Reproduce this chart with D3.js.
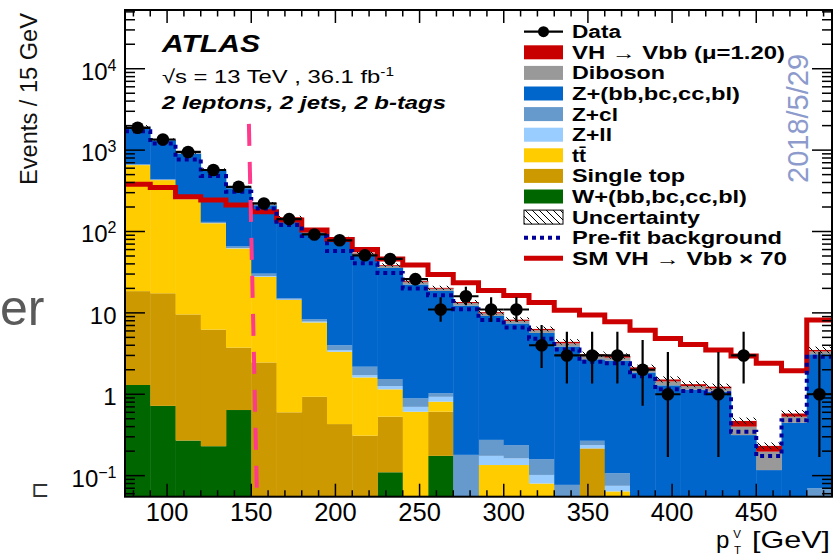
<!DOCTYPE html>
<html>
<head>
<meta charset="utf-8">
<script src="https://cdn.jsdelivr.net/npm/d3@7/dist/d3.min.js"></script>
<style>
  body { margin: 0; background: #fff; }
  svg text { font-family: "Liberation Sans", Arial, Helvetica, sans-serif; }
</style>
</head>
<body>
<svg id="chart" width="836" height="556"></svg>
<script>
// bin edges in pT^V [GeV], 15 GeV bins
const binEdges = [75, 90, 105, 120, 135, 150, 165, 180, 195, 210, 225, 240, 255, 270, 285,
  300, 315, 330, 345, 360, 375, 390, 405, 420, 435, 450, 465, 480, 495];

// stacked backgrounds + signal (post-fit), events per bin
const wHF     = [1.30, 0.72, 0.27, 0.23, 0.64, 0, 0, 0, 0, 0, 0.11, 0, 0.175, 0, 0, 0, 0, 0, 0, 0, 0, 0, 0, 0, 0, 0, 0, 0];
const singleTop = [17.2, 16.7, 9.3, 6.0, 3.1, 2.46, 0.60, 0.93, 0.43, 0.31, 0.42, 0, 0.435, 0, 0, 0, 0, 0, 0.216, 0, 0, 0, 0, 0, 0, 0, 0, 0];
const ttbar   = [636, 411, 240, 120, 58, 25.3, 13.8, 6.7, 2.9, 1.3, 0.62, 0.61, 0.2, 0, 0.135, 0.135, 0.08, 0, 0, 0.064, 0, 0, 0, 0, 0, 0, 0, 0];
const zLL     = [3, 2, 1.5, 1, 0.8, 0.6, 0.2, 0.2, 0.16, 0.11, 0.11, 0.09, 0.12, 0, 0.04, 0.028, 0.022, 0, 0.021, 0.011, 0, 0, 0, 0, 0, 0, 0, 0];
const zCL     = [12, 9, 6, 4, 3, 2, 0.5, 0.5, 0.51, 0.46, 0.28, 0.19, 0.10, 0.18, 0.10, 0.074, 0.057, 0.077, 0.031, 0.032, 0, 0, 0, 0, 0, 0, 0, 0.07];
const zHF     = [1270, 886, 650, 432, 275, 180, 126.5, 87.5, 72.9, 49, 34.1, 21.45, 17.57, 12.12, 8.9, 7.18, 5.51, 3.79, 2.42, 2.49, 1.855, 1.287, 1.14, 1.08, 0.315, 0.117, 0.446, 3.03];
const diboson = [25, 22, 18, 13, 10, 8, 6, 4.5, 3.8, 2.8, 2.2, 1.5, 1.2, 0.9, 0.7, 0.55, 0.45, 0.35, 0.25, 0.22, 0.18, 0.15, 0.12, 0.1, 0.085, 0.08, 0.084, 0.26];
const vhSignal = [6.5, 6.0, 4.6, 4.2, 3.6, 3.0, 2.4, 1.75, 1.34, 1.06, 0.82, 0.66, 0.50, 0.40, 0.32, 0.28, 0.23, 0.185, 0.16, 0.134, 0.105, 0.083, 0.07, 0.06, 0.07, 0.035, 0.05, 0.14];

// relative size of the hatched uncertainty band
const uncRel = [0.03, 0.03, 0.03, 0.03, 0.03, 0.04, 0.04, 0.04, 0.05, 0.05, 0.05, 0.06, 0.06, 0.06, 0.07, 0.07, 0.07, 0.08, 0.08, 0.08, 0.08, 0.09, 0.09, 0.09, 0.1, 0.1, 0.1, 0.1];

// pre-fit background and SM VH x 70 overlays
const preFit = [1710, 1208, 769, 480, 307, 192, 120, 88, 57.5, 40.6, 31, 20, 16.5, 11.1, 8.2, 6.6, 4.8, 3.56, 2.5, 2.4, 1.67, 1.15, 1.1, 1.03, 0.346, 0.174, 0.48, 2.89];
const smVHx70 = [382, 348, 267, 243, 211, 175, 138, 104, 80, 60, 46, 38.7, 29.6, 23.4, 18.9, 16.3, 13.4, 10.8, 9.4, 7.8, 6.1, 4.86, 4.1, 3.49, 2.95, 2.4, 1.95, 8.2];

// data with asymmetric errors (0 = empty bin)
const dataCounts = [1880, 1350, 950, 570, 354, 221, 142, 92, 78, 51, 46, 26, 11, 16, 11, 11, 4, 3, 3, 3, 2, 1, 0, 1, 3, 0, 0, 1];
const dataErrLo  = [43, 37, 31, 24, 19, 15, 12, 10, 9, 7, 7, 4.1, 3.2, 3.6, 3.2, 3.2, 1.9, 1.64, 1.64, 1.64, 1.28, 0.83, 0, 0.83, 1.64, 0, 0, 0.83];
const dataErrHi  = [43, 37, 31, 24, 19, 15, 12, 10, 9, 7, 7, 5.0, 4.6, 4.9, 4.6, 4.6, 3.1, 2.85, 2.85, 2.85, 2.63, 2.3, 0, 2.3, 2.85, 0, 0, 2.3];

// hand drawn pT cut marker (start / end in data units)
const cutLineX = [148.6, 153.4];
const cutLineY = [2100, 0.0551];

const yTicks = [0.1, 1, 10, 100, 1000, 10000];
const yTickLabels = [["10", "\u22121"], ["1", ""], ["10", ""], ["10", "2"], ["10", "3"], ["10", "4"]];
const xTicks = [100, 150, 200, 250, 300, 350, 400, 450];

const legendItems = [
  { label: "Data", kind: "data" },
  { label: "VH \u2192 Vbb (\u03bc=1.20)", kind: "box", color: "#c80000" },
  { label: "Diboson", kind: "box", color: "#999999" },
  { label: "Z+(bb,bc,cc,bl)", kind: "box", color: "#0066cc" },
  { label: "Z+cl", kind: "box", color: "#6699cc" },
  { label: "Z+ll", kind: "box", color: "#99ccff" },
  { label: "tt\u0304", kind: "box", color: "#ffcc00" },
  { label: "Single top", kind: "box", color: "#cc9900" },
  { label: "W+(bb,bc,cc,bl)", kind: "box", color: "#006600" },
  { label: "Uncertainty", kind: "hatch" },
  { label: "Pre-fit background", kind: "dotted" },
  { label: "SM VH \u2192 Vbb \u00d7 70", kind: "line" },
];
const legendWidths = [49, 213, 93, 168, 46, 40, 14, 113, 175, 128, 210, 215];

// ---------------------------------------------------------------
const svg = d3.select("#chart");
const plot = { left: 125, right: 832, top: 10, bottom: 496.7 };
const yFloor = 0.0551;

const x = d3.scaleLinear().domain([75, 495]).range([plot.left, plot.right]);
const y = d3.scaleLog().domain([yFloor, 52700]).range([plot.bottom, plot.top]);
const yv = v => y(Math.max(v, yFloor));

const defs = svg.append("defs");
defs.append("clipPath").attr("id", "plotClip")
  .append("rect")
  .attr("x", plot.left).attr("y", plot.top)
  .attr("width", plot.right - plot.left).attr("height", plot.bottom - plot.top);

const hatch = defs.append("pattern").attr("id", "hatch")
  .attr("patternUnits", "userSpaceOnUse").attr("width", 7).attr("height", 7);
hatch.append("path").attr("d", "M0,0L7,7M-1,6L1,8M6,-1L8,1")
  .attr("stroke", "#000").attr("stroke-width", 1);

// stack
const keys = ["wHF", "singleTop", "ttbar", "zLL", "zCL", "zHF", "diboson", "vh"];
const colors = {
  wHF: "#006600", singleTop: "#cc9900", ttbar: "#ffcc00", zLL: "#99ccff",
  zCL: "#6699cc", zHF: "#0066cc", diboson: "#999999", vh: "#c80000"
};
const rows = binEdges.slice(0, -1).map((lo, i) => ({
  lo, hi: binEdges[i + 1],
  wHF: wHF[i], singleTop: singleTop[i], ttbar: ttbar[i], zLL: zLL[i],
  zCL: zCL[i], zHF: zHF[i], diboson: diboson[i], vh: vhSignal[i]
}));
const series = d3.stack().keys(keys)(rows);

const gPlot = svg.append("g").attr("clip-path", "url(#plotClip)");

gPlot.selectAll("g.layer")
  .data(series)
  .join("g")
  .attr("class", "layer")
  .attr("fill", d => colors[d.key])
  .selectAll("rect")
  .data(d => d.filter(s => s[1] > s[0]))
  .join("rect")
  .attr("x", d => x(d.data.lo))
  .attr("width", d => x(d.data.hi) - x(d.data.lo) + 0.4)
  .attr("y", d => yv(d[1]))
  .attr("height", d => Math.max(0, yv(d[0]) - yv(d[1])));

// uncertainty band around total
const totals = series[series.length - 1].map(d => d[1]);
gPlot.append("g").selectAll("rect")
  .data(rows)
  .join("rect")
  .attr("x", d => x(d.lo))
  .attr("width", d => x(d.hi) - x(d.lo))
  .attr("y", (d, i) => yv(totals[i] * (1 + uncRel[i])))
  .attr("height", (d, i) => yv(totals[i] / (1 + uncRel[i])) - yv(totals[i] * (1 + uncRel[i])))
  .attr("fill", "url(#hatch)");

// step outlines
function stepPoints(vals) {
  const pts = [];
  vals.forEach((v, i) => {
    pts.push([x(binEdges[i]), yv(v)]);
    pts.push([x(binEdges[i + 1]), yv(v)]);
  });
  return pts;
}
const line = d3.line();

gPlot.append("path")
  .attr("d", line(stepPoints(smVHx70)))
  .attr("fill", "none")
  .attr("stroke", "#cc0000")
  .attr("stroke-width", 5);

gPlot.append("path")
  .attr("d", line(stepPoints(preFit)))
  .attr("fill", "none")
  .attr("stroke", "#000099")
  .attr("stroke-width", 4)
  .attr("stroke-dasharray", "4,4");

// data
const dataPts = dataCounts.map((n, i) => ({
  n, lo: binEdges[i], hi: binEdges[i + 1],
  c: (binEdges[i] + binEdges[i + 1]) / 2,
  eLo: dataErrLo[i], eHi: dataErrHi[i]
})).filter(d => d.n > 0);

const gData = gPlot.append("g").attr("stroke", "#000").attr("stroke-width", 2.2);
gData.selectAll("line.h").data(dataPts).join("line").attr("class", "h")
  .attr("x1", d => x(d.lo)).attr("x2", d => x(d.hi))
  .attr("y1", d => y(d.n)).attr("y2", d => y(d.n));
gData.selectAll("line.v").data(dataPts).join("line").attr("class", "v")
  .attr("x1", d => x(d.c)).attr("x2", d => x(d.c))
  .attr("y1", d => yv(d.n - d.eLo)).attr("y2", d => y(d.n + d.eHi));
gData.selectAll("circle").data(dataPts).join("circle")
  .attr("cx", d => x(d.c)).attr("cy", d => y(d.n)).attr("r", 6.3)
  .attr("fill", "#000").attr("stroke", "none");

// pT cut marker
gPlot.append("line")
  .attr("x1", x(cutLineX[0])).attr("y1", y(cutLineY[0]))
  .attr("x2", x(cutLineX[1])).attr("y2", y(cutLineY[1]))
  .attr("stroke", "#ff3a8c").attr("stroke-width", 4)
  .attr("stroke-dasharray", "22,16");

// frame and ticks (ROOT style, ticks inside)
const gAxes = svg.append("g").attr("stroke", "#000");
gAxes.append("rect")
  .attr("x", plot.left).attr("y", plot.top)
  .attr("width", plot.right - plot.left).attr("height", plot.bottom - plot.top)
  .attr("fill", "none").attr("stroke-width", 2);

const xMinor = d3.range(80, 495, 10);
[plot.bottom, plot.top].forEach((y0, k) => {
  const dir = k === 0 ? -1 : 1;
  gAxes.append("g").selectAll("line").data(xMinor).join("line")
    .attr("x1", d => x(d)).attr("x2", d => x(d))
    .attr("y1", y0).attr("y2", d => y0 + dir * (d % 50 === 0 ? 13 : 6.5))
    .attr("stroke-width", 1.5);
});

const yAll = [];
for (let e = -2; e <= 4; e++) for (let m = 1; m <= 9; m++) {
  const v = m * Math.pow(10, e);
  if (v >= yFloor && v <= 52700) yAll.push({ v, major: m === 1 });
}
[plot.left, plot.right].forEach((x0, k) => {
  const dir = k === 0 ? 1 : -1;
  gAxes.append("g").selectAll("line").data(yAll).join("line")
    .attr("x1", x0).attr("x2", d => x0 + dir * (d.major ? 20 : 10))
    .attr("y1", d => y(d.v)).attr("y2", d => y(d.v))
    .attr("stroke-width", 1.5);
});

// tick labels
svg.append("g").selectAll("text").data(xTicks).join("text")
  .attr("x", d => x(d)).attr("y", 521)
  .attr("text-anchor", "middle")
  .attr("font-size", 25.5)
  .text(d => d);

const yl = svg.append("g").selectAll("text").data(yTicks).join("text")
  .attr("x", 116.5).attr("y", d => y(d) + 11)
  .attr("text-anchor", "end")
  .attr("font-size", 24);
yl.append("tspan").text((d, i) => yTickLabels[i][0]);
yl.append("tspan").attr("dy", -9).attr("font-size", 16).text((d, i) => yTickLabels[i][1]);

// axis titles
svg.append("text")
  .attr("transform", "translate(37,185) rotate(-90)")
  .attr("font-size", 23)
  .attr("textLength", 172).attr("lengthAdjust", "spacingAndGlyphs")
  .attr("fill", "#111")
  .text("Events / 15 GeV");

// p_T^V [GeV], written as one text with a stacked super/subscript
const xt = svg.append("text").attr("x", 716).attr("y", 548).attr("font-size", 24);
xt.append("tspan").text("p");
xt.append("tspan").attr("dx", 4).attr("dy", -10).attr("font-size", 11.5).text("V");
xt.append("tspan").attr("dx", -7).attr("dy", 15.5).attr("font-size", 11.5).text("T");
xt.append("tspan").attr("x", 752).attr("dy", -5.5)
  .attr("textLength", 78).attr("lengthAdjust", "spacingAndGlyphs").text("[GeV]");

// ATLAS labels
svg.append("text").attr("x", 162).attr("y", 51.7)
  .attr("font-size", 23.5).attr("font-weight", "bold").attr("font-style", "italic")
  .attr("textLength", 98).attr("lengthAdjust", "spacingAndGlyphs")
  .text("ATLAS");
const lumi = svg.append("text").attr("x", 162).attr("y", 82.7).attr("font-size", 18.5)
  .attr("textLength", 232).attr("lengthAdjust", "spacingAndGlyphs");
lumi.append("tspan").text("\u221as = 13 TeV , 36.1 fb");
lumi.append("tspan").attr("dy", -7).attr("font-size", 12).text("-1");
svg.append("text").attr("x", 162).attr("y", 108.5)
  .attr("font-size", 17.5).attr("font-weight", "bold").attr("font-style", "italic")
  .attr("textLength", 284).attr("lengthAdjust", "spacingAndGlyphs")
  .text("2 leptons, 2 jets, 2 b-tags");

// legend
const lg = svg.append("g");
const rowY = i => 31.7 + i * 20.6;
legendItems.forEach((d, i) => {
  const cy = rowY(i);
  if (d.kind === "data") {
    lg.append("line").attr("x1", 524).attr("x2", 563).attr("y1", cy).attr("y2", cy)
      .attr("stroke", "#000").attr("stroke-width", 2.2);
    lg.append("circle").attr("cx", 543.5).attr("cy", cy).attr("r", 5.5);
  } else if (d.kind === "box") {
    lg.append("rect").attr("x", 524).attr("y", cy - 7).attr("width", 39).attr("height", 14)
      .attr("fill", d.color);
  } else if (d.kind === "hatch") {
    lg.append("rect").attr("x", 524).attr("y", cy - 7).attr("width", 39).attr("height", 14)
      .attr("fill", "url(#hatch)").attr("stroke", "#000").attr("stroke-width", 1);
  } else if (d.kind === "dotted") {
    lg.append("line").attr("x1", 524).attr("x2", 563).attr("y1", cy).attr("y2", cy)
      .attr("stroke", "#000099").attr("stroke-width", 4).attr("stroke-dasharray", "4,4");
  } else {
    lg.append("line").attr("x1", 524).attr("x2", 563).attr("y1", cy).attr("y2", cy)
      .attr("stroke", "#cc0000").attr("stroke-width", 5);
  }
  lg.append("text").attr("x", 572).attr("y", cy + 6.4)
    .attr("font-size", 17.5).attr("font-weight", "bold")
    .attr("textLength", legendWidths[i]).attr("lengthAdjust", "spacingAndGlyphs")
    .text(d.label);
});

// overlays seen in the picture
svg.append("text")
  .attr("transform", "translate(808,183) rotate(-90)")
  .attr("font-size", 29).attr("fill", "#8c9acc")
  .text("2018/5/29");
svg.append("text").attr("x", 0).attr("y", 325)
  .attr("font-size", 50).attr("fill", "#5a5a5a")
  .text("er");
svg.append("text").attr("x", 31).attr("y", 497)
  .attr("font-size", 22).attr("fill", "#333")
  .text("\u228f");
</script>
</body>
</html>
